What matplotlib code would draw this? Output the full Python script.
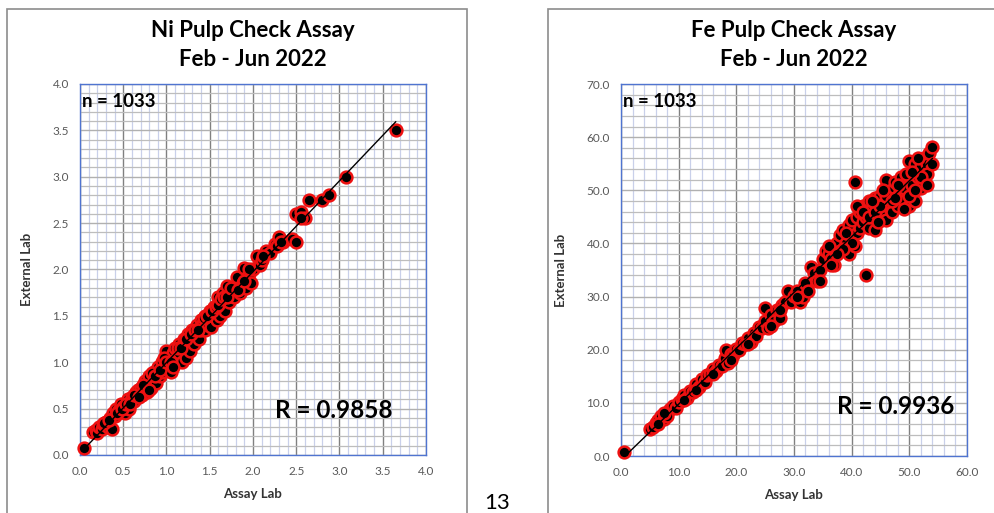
import matplotlib
matplotlib.use("Agg")
import matplotlib.pyplot as plt
from matplotlib.patches import Rectangle
from matplotlib.ticker import MultipleLocator, FormatStrFormatter
import numpy as np

plt.rcParams["font.family"] = ["Lato", "DejaVu Sans"]

# Ni pulp check: assay lab (x) vs external lab (y)
ni_assay = [
    0.05, 0.15, 0.18, 0.20, 0.22, 0.25, 0.27, 0.30, 0.32, 0.35, 0.37, 0.38, 0.40,
    0.42, 0.45, 0.47, 0.50, 0.52, 0.55, 0.57, 0.60, 0.62, 0.65, 0.67, 0.70, 0.72,
    0.75, 0.77, 0.78, 0.80, 0.82, 0.85, 0.85, 0.88, 0.90, 0.92, 0.95, 0.95, 0.98,
    1.00, 1.02, 1.03, 1.05, 1.07, 1.10, 1.10, 1.12, 1.15, 1.15, 1.18, 1.20, 1.20,
    1.22, 1.25, 1.25, 1.27, 1.30, 1.30, 1.32, 1.35, 1.35, 1.38, 1.40, 1.40, 1.42,
    1.45, 1.45, 1.48, 1.50, 1.50, 1.52, 1.55, 1.55, 1.58, 1.60, 1.60, 1.62, 1.65,
    1.65, 1.68, 1.70, 1.72, 1.75, 1.78, 1.80, 1.82, 1.85, 1.88, 1.90, 1.92, 1.95,
    1.98, 2.00, 2.05, 2.08, 2.10, 2.15, 2.20, 2.25, 2.28, 2.30, 2.35, 2.45, 2.50,
    2.50, 2.55, 2.60, 2.65, 2.80, 2.88, 3.07, 3.65,
    0.28, 0.33, 0.43, 0.48, 0.53, 0.58, 0.63, 0.68, 0.73, 0.80, 0.83, 0.87, 0.93,
    0.97, 1.00, 1.05, 1.08, 1.13, 1.17, 1.23, 1.28, 1.33, 1.37, 1.43, 1.47, 1.53,
    1.57, 1.60, 1.63, 1.67, 1.70, 1.75, 1.83, 1.90, 1.95, 2.12, 2.32, 2.55,
]
ni_external = [
    0.08, 0.25, 0.27, 0.24, 0.30, 0.28, 0.33, 0.36, 0.30, 0.40, 0.28, 0.45, 0.42,
    0.50, 0.48, 0.55, 0.52, 0.45, 0.60, 0.50, 0.62, 0.58, 0.68, 0.70, 0.72, 0.65,
    0.80, 0.68, 0.75, 0.85, 0.72, 0.90, 0.80, 0.78, 0.95, 0.85, 1.00, 0.90, 0.95,
    1.12, 0.95, 1.05, 0.90, 1.10, 1.15, 1.00, 1.05, 1.20, 1.10, 1.00, 1.25, 1.15,
    1.05, 1.30, 1.20, 1.12, 1.35, 1.25, 1.20, 1.40, 1.30, 1.25, 1.45, 1.35, 1.42,
    1.50, 1.35, 1.40, 1.55, 1.45, 1.38, 1.60, 1.50, 1.45, 1.70, 1.55, 1.50, 1.75,
    1.60, 1.55, 1.82, 1.65, 1.75, 1.70, 1.80, 1.92, 1.75, 1.85, 2.02, 1.80, 1.95,
    1.85, 2.00, 2.15, 2.05, 2.10, 2.20, 2.18, 2.28, 2.25, 2.35, 2.30, 2.33, 2.30,
    2.60, 2.62, 2.55, 2.75, 2.75, 2.80, 3.00, 3.50,
    0.35, 0.38, 0.45, 0.50, 0.55, 0.55, 0.65, 0.62, 0.75, 0.70, 0.88, 0.85, 0.92,
    1.05, 1.00, 1.00, 0.95, 1.15, 1.15, 1.25, 1.30, 1.35, 1.35, 1.48, 1.50, 1.55,
    1.60, 1.62, 1.68, 1.70, 1.70, 1.80, 1.78, 1.88, 2.00, 2.15, 2.30, 2.55,
]

# Fe pulp check
fe_assay = [
    0.5, 5.0, 5.5, 6.0, 6.5, 7.0, 7.5, 8.0, 8.5, 9.0, 9.5, 10.0, 10.5, 11.0, 11.5,
    12.0, 12.5, 13.0, 13.5, 14.0, 14.5, 15.0, 15.5, 16.0, 16.5, 17.0, 17.5, 18.0,
    18.2, 18.5, 19.0, 19.5, 20.0, 20.5, 21.0, 21.5, 22.0, 22.5, 23.0, 23.5, 24.0,
    24.5, 25.0, 25.0, 25.5, 26.0, 26.5, 27.0, 27.5, 28.0, 28.5, 29.0, 29.5, 30.0,
    30.5, 31.0, 31.5, 32.0, 32.5, 33.0, 33.5, 34.0, 34.5, 35.0, 35.5, 36.0, 36.5,
    37.0, 37.5, 38.0, 38.5, 39.0, 39.5, 39.5, 40.0, 40.0, 40.5, 40.5, 41.0, 41.0,
    41.5, 41.5, 42.0, 42.0, 42.5, 42.5, 43.0, 43.0, 43.5, 44.0, 44.0, 44.5, 45.0,
    45.0, 45.5, 46.0, 46.0, 46.5, 47.0, 47.0, 47.5, 48.0, 48.0, 48.5, 49.0, 49.0,
    49.5, 50.0, 50.0, 50.5, 51.0, 51.0, 51.5, 52.0, 52.0, 52.5, 53.0, 53.0, 53.5,
    54.0, 54.0,
    36.0, 37.0, 38.0, 39.0, 40.0, 41.0, 42.0, 43.0, 44.0, 45.0, 46.0, 47.0, 48.0,
    49.0, 50.0, 51.0, 52.0, 53.0, 51.5, 50.5, 47.5, 45.5, 44.5, 43.5, 38.5, 37.5,
    36.5, 34.5, 30.5, 27.5, 26.0, 22.0, 19.0, 16.0, 13.0, 11.0, 8.0, 6.5, 7.5,
]
fe_external = [
    0.8, 5.0, 5.5, 6.2, 6.8, 7.5, 7.0, 8.0, 8.8, 9.5, 9.0, 10.2, 10.8, 11.5, 11.0,
    12.2, 12.0, 13.5, 13.0, 14.5, 14.0, 15.2, 15.5, 16.3, 16.0, 17.2, 17.0, 18.5,
    20.0, 17.5, 19.2, 19.0, 20.2, 20.0, 21.2, 21.0, 22.3, 21.5, 23.2, 22.5, 24.2,
    24.0, 25.5, 27.8, 24.0, 26.5, 25.5, 27.5, 26.0, 28.5, 29.0, 31.0, 29.0, 30.2,
    31.0, 29.0, 30.0, 32.5, 31.0, 35.5, 34.5, 33.0, 35.0, 37.0, 38.5, 38.0, 37.0,
    39.0, 40.0, 41.5, 42.5, 40.0, 43.5, 38.0, 44.5, 41.0, 51.5, 39.5, 45.0, 42.0,
    46.0, 43.0, 47.0, 44.0, 34.0, 45.0, 48.0, 43.0, 46.5, 48.5, 42.5, 47.0, 49.0,
    45.5, 47.5, 52.0, 44.5, 48.5, 50.0, 46.0, 51.5, 49.0, 47.0, 52.5, 48.0, 50.5,
    53.0, 55.5, 47.0, 51.0, 55.0, 48.0, 52.5, 54.5, 50.5, 56.0, 55.0, 53.0, 57.0,
    58.2, 55.0,
    39.5, 36.0, 38.5, 42.0, 40.0, 47.0, 46.0, 45.0, 46.0, 47.0, 49.0, 48.0, 51.0,
    46.5, 49.0, 50.0, 52.5, 51.0, 56.0, 53.5, 48.5, 50.0, 44.0, 48.0, 39.0, 38.0,
    36.0, 33.0, 30.0, 27.5, 24.5, 21.0, 18.0, 15.5, 12.5, 10.5, 7.5, 6.0, 8.0,
]

charts = [
    dict(title="Ni Pulp Check Assay\nFeb - Jun 2022", x=ni_assay, y=ni_external,
         xmax=4.0, ymax=4.0, xmajor=0.5, ymajor=0.5, minor=0.1, r="R = 0.9858",
         rpos=(0.903, 0.121),
         pos=[0.0804, 0.1131, 0.3477, 0.7232], box=(0.007, 0.4623)),
    dict(title="Fe Pulp Check Assay\nFeb - Jun 2022", x=fe_assay, y=fe_external,
         xmax=60.0, ymax=70.0, xmajor=10.0, ymajor=10.0, minor=2.0, r="R = 0.9936",
         rpos=(0.962, 0.132),
         pos=[0.6241, 0.1111, 0.3477, 0.7251], box=(0.551, 0.46)),
]

fig = plt.figure(figsize=(9.95, 5.13), dpi=100)
fig.patch.set_facecolor("white")

for c in charts:
    # chart outer frame
    fig.patches.append(Rectangle((c["box"][0], -0.05), c["box"][1], 1.0325,
                                 transform=fig.transFigure, fill=False,
                                 edgecolor="#8c8c8c", linewidth=1.2))
    ax = fig.add_axes(c["pos"])
    ax.set_xlim(0, c["xmax"])
    ax.set_ylim(0, c["ymax"])
    ax.xaxis.set_major_locator(MultipleLocator(c["xmajor"]))
    ax.yaxis.set_major_locator(MultipleLocator(c["ymajor"]))
    ax.xaxis.set_minor_locator(MultipleLocator(c["minor"]))
    ax.yaxis.set_minor_locator(MultipleLocator(c["minor"]))
    ax.xaxis.set_major_formatter(FormatStrFormatter("%.1f"))
    ax.yaxis.set_major_formatter(FormatStrFormatter("%.1f"))
    ax.grid(which="minor", axis="x", color="#c9d0ea", linewidth=0.9)
    ax.grid(which="minor", axis="y", color="#bdbdbd", linewidth=0.9)
    ax.grid(which="major", axis="x", color="#808080", linewidth=1.0)
    ax.grid(which="major", axis="y", color="#b0b0b0", linewidth=1.0)
    ax.set_axisbelow(True)
    ax.tick_params(which="both", length=0, labelsize=8.5, labelcolor="#595959", pad=8)
    for s in ax.spines.values():
        s.set_color("#4f74d0")
        s.set_linewidth(1.0)

    ax.scatter(c["x"], c["y"], s=72, facecolor="black", edgecolor="#ee1111",
               linewidth=1.8, zorder=3, clip_on=False)
    k, b = np.polyfit(c["x"], c["y"], 1)
    xs = np.array([min(c["x"]), max(c["x"])])
    ax.plot(xs, k * xs + b, color="black", linewidth=1.0, zorder=4)

    ax.text(0.005, 0.975, "n = 1033", transform=ax.transAxes, fontsize=13.5,
            fontweight="bold", va="top", ha="left")
    ax.text(c["rpos"][0], c["rpos"][1], c["r"], transform=ax.transAxes, fontsize=17.5,
            fontweight="bold", va="center", ha="right")
    ax.text(0.5, 1.104, c["title"], transform=ax.transAxes, fontsize=16,
            fontweight="bold", ha="center", va="center", linespacing=1.47)
    ax.set_xlabel("Assay Lab", fontsize=9.5, fontweight="bold", color="#333333", labelpad=8)
    ax.set_ylabel("External Lab", fontsize=9.5, fontweight="bold", color="#333333", labelpad=14)

fig.text(0.4995, 0.0, "13", fontsize=16, ha="center", va="bottom")

fig.savefig("out.png", dpi=100)
